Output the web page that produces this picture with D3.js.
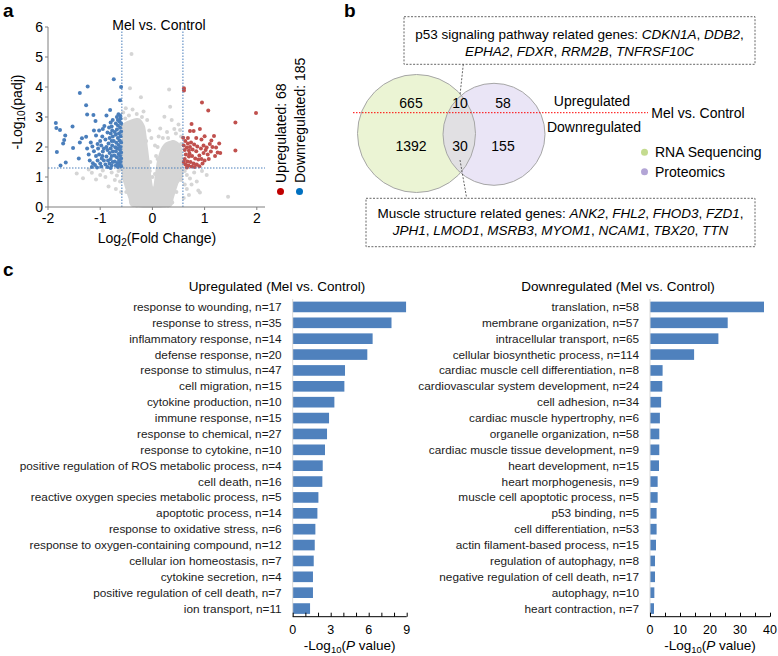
<!DOCTYPE html>
<html>
<head>
<meta charset="utf-8">
<script src="https://cdn.jsdelivr.net/npm/d3@7"></script>
<style>
body { margin: 0; background: #fff; }
svg { font-family: "Liberation Sans", Arial, sans-serif; }
</style>
</head>
<body>
<svg id="fig" width="778" height="656"></svg>
<script>
// ---- panel a: volcano ----
var upPts = [[0.605,3.96],[0.605,3.88],[0.95,3.48],[1.07,3.22],[1.985,3.13],[1.59,2.82],[1.59,1.88],[0.75,2.77],[0.91,2.6],[0.72,2.53],[0.79,2.53],[0.59,2.31],[1.0,2.36],[1.18,2.37],
	[0.63,2.2],[0.68,2.12],[0.74,2.15],[0.6,2.05],[0.66,1.98],[0.72,2.0],[0.8,2.08],[0.86,2.02],[0.62,1.9],[0.7,1.88],[0.77,1.92],[0.84,1.86],[0.93,1.95],[0.98,2.05],[1.04,1.98],[1.1,2.1],[1.15,2.0],[1.22,1.98],[1.28,2.12],[1.25,1.82],[1.3,1.8],[1.2,1.7],[1.12,1.85],[1.06,1.75],[0.98,1.8],[0.9,1.72],[0.64,1.75],[0.7,1.68],[0.76,1.7],[0.82,1.62],[0.88,1.58],[0.94,1.6],[1.0,1.55],[1.08,1.6],[0.62,1.6],[0.67,1.52],[0.73,1.5],[0.79,1.45],[0.85,1.42],[0.96,1.45],[0.63,1.42],[0.69,1.38],[0.75,1.35],[0.81,1.33],[0.9,1.36],[0.66,1.32],[1.02,1.9],[0.94,2.25],[0.84,2.3],[0.68,2.3],[1.13,2.22],[0.6,1.5],[0.71,1.78]];
var downPts = [[-0.74,4.26],[-1.24,4.02],[-0.6,4.0],[-1.39,3.8],[-0.62,3.56],[-1.27,3.39],[-0.81,3.23],[-0.65,3.09],[-1.25,3.08],[-1.13,3.07],[-0.88,3.05],[-1.85,2.8],[-1.53,2.68],[-1.84,2.63],[-1.77,2.57],[-1.09,2.87],[-1.12,2.55],[-1.67,2.38],[-1.69,2.23],[-1.71,2.12],[-1.35,2.29],[-1.52,1.97],[-1.39,2.15],[-1.27,2.34],[-1.83,1.83],[-1.41,1.62],[-1.66,1.48],[-1.76,1.38],[-1.16,1.33],[-1.14,1.46],
	[-0.61,2.95],[-0.63,2.85],[-0.6,2.78],[-0.66,2.72],[-0.62,2.64],[-0.68,2.58],[-0.6,2.52],[-0.64,2.45],[-0.7,2.41],[-0.61,2.36],[-0.66,2.3],[-0.63,2.22],[-0.6,2.15],[-0.69,2.14],[-0.65,2.07],[-0.61,2.0],[-0.67,1.95],[-0.62,1.9],[-0.7,1.86],[-0.6,1.82],[-0.65,1.77],[-0.62,1.7],[-0.68,1.66],[-0.6,1.62],[-0.64,1.57],[-0.61,1.5],[-0.67,1.47],[-0.63,1.41],[-0.6,1.36],[-0.66,1.33],[-0.7,1.38],[-0.72,1.52],[-0.73,1.72],[-0.71,1.99],[-0.74,2.2],[-0.72,2.5],[-0.7,2.78],[-0.66,2.9],[-0.68,3.0],[-0.62,3.05],
	[-0.76,2.9],[-0.78,2.68],[-0.77,2.55],[-0.8,2.45],[-0.76,2.35],[-0.82,2.3],[-0.78,2.2],[-0.84,2.12],[-0.77,2.05],[-0.8,1.95],[-0.86,1.9],[-0.76,1.85],[-0.82,1.8],[-0.78,1.7],[-0.88,1.68],[-0.8,1.6],[-0.85,1.55],[-0.76,1.5],[-0.82,1.45],[-0.9,1.42],[-0.78,1.38],[-0.86,1.33],[-0.8,1.3],[-0.93,1.55],[-0.88,2.0],[-0.9,2.25],[-0.86,2.48],[-0.83,2.65],[-0.92,2.7],[-0.8,2.82],
	[-0.96,2.35],[-1.0,2.2],[-0.98,2.05],[-1.04,1.95],[-0.95,1.85],[-1.02,1.75],[-1.08,1.7],[-0.97,1.62],[-1.05,1.55],[-1.0,1.45],[-1.1,1.4],[-0.98,1.35],[-1.06,1.32],[-1.12,1.86],[-1.15,2.02],[-1.2,1.55],[-1.18,2.15],[-1.08,2.38],[-1.02,2.55],[-0.95,2.6],[-1.22,1.75],[-1.25,1.95],[-1.05,2.1],[-0.93,1.95],[-0.96,1.7]];
// dense core of the non-significant genes, outlined by hand
var greyCore = [[-0.37,0],[-0.46,0.3],[-0.55,0.79],[-0.585,1.1],[-0.585,2.6],[-0.55,2.8],[-0.43,2.9],[-0.33,2.96],[-0.24,2.95],[-0.14,2.68],[-0.08,1.9],[-0.01,0.9],[0.02,0.7],[0.08,1.47],[0.15,1.9],[0.24,2.13],[0.4,2.23],[0.5,2.15],[0.56,2.0],[0.585,1.6],[0.585,1.0],[0.5,0.79],[0.41,0.3],[0.33,0]];
var greyPts = [[-0.4,5.1],[-0.43,3.96],[-0.22,3.66],[0.32,3.92],[0.34,3.34],[0.23,3.01],[-0.51,3.29],[-0.17,3.18],[0.15,2.62],[0.37,2.9],[0.53,2.57],[0.45,2.45],[0.28,2.5],[0.12,2.35],[0.2,2.3],[0.05,2.05],[-0.02,2.3],[-0.06,2.55],[-0.1,2.9],[-0.3,3.1],[-0.45,3.05],[-0.56,3.15],[-0.52,2.95],[-0.38,3.25],[0.42,2.6],[0.55,2.35],[0.5,2.75],
	[-1.45,1.12],[-1.33,0.96],[-1.16,1.14],[-1.0,1.07],[-0.84,0.68],[-0.72,0.9],[-0.65,1.2],[-0.9,1.0],[-1.08,0.92],[-0.78,1.15],[-0.68,1.05],[-0.62,0.85],[-0.7,0.6],[-0.6,0.5],[-0.95,1.22],[-1.22,1.25],[-0.62,1.25],
	[0.66,1.07],[0.75,0.75],[0.91,0.48],[0.88,0.55],[1.04,1.07],[1.45,0.34],[0.66,0.6],[0.72,0.95],[0.62,1.2],[0.8,1.15],[0.7,0.4],[0.6,0.3],[0.95,1.2],[0.85,0.85],[0.62,0.75],
	[-0.5,0.5],[-0.56,1.0],[-0.4,0.15],[0.38,0.15],[0.46,0.5],[0.55,0.9],[-0.05,1.2],[0.05,1.1],[0,1.0],[-0.04,1.5],[0.07,1.7],[0.1,1.6],[-0.12,2.2],[0.1,2.0],[0.3,2.3],[0.55,2.1],[-0.6,2.7],[-0.2,3.0],[0.3,0.05],[-0.3,0.05]];
var fcCut = 0.585, padjCut = 1.3;
var volcanoXTicks = [-2, -1, 0, 1, 2];
var volcanoYTicks = [0, 1, 2, 3, 4, 5, 6];
var upCount = 68, downCount = 185;

// ---- panel b: venn ----
var vennUp = [665, 10, 58];     // RNA only, both, proteomics only
var vennDown = [1392, 30, 155];
var vennSets = ["RNA Sequencing", "Proteomics"];
var p53Genes = [["CDKN1A", "DDB2,"], ["EPHA2", "FDXR", "RRM2B", "TNFRSF10C"]];
var muscleGenes = [["ANK2", "FHL2", "FHOD3", "FZD1,"], ["JPH1", "LMOD1", "MSRB3", "MYOM1", "NCAM1", "TBX20", "TTN"]];

// ---- panel c: GO bars ----
var upTerms = ["response to wounding, n=17","response to stress, n=35","inflammatory response, n=14","defense response, n=20","response to stimulus, n=47","cell migration, n=15","cytokine production, n=10","immune response, n=15","response to chemical, n=27","response to cytokine, n=10","positive regulation of ROS metabolic process, n=4","cell death, n=16","reactive oxygen species metabolic process, n=5","apoptotic process, n=14","response to oxidative stress, n=6","response to oxygen-containing compound, n=12","cellular ion homeostasis, n=7","cytokine secretion, n=4","positive regulation of cell death, n=7","ion transport, n=11"];
var upValues = [8.95, 7.8, 6.31, 5.89, 4.13, 4.08, 3.29, 2.87, 2.71, 2.55, 2.37, 2.34, 2.03, 1.95, 1.79, 1.74, 1.66, 1.6, 1.6, 1.37];
var downTerms = ["translation, n=58","membrane organization, n=57","intracellular transport, n=65","cellular biosynthetic process, n=114","cardiac muscle cell differentiation, n=8","cardiovascular system development, n=24","cell adhesion, n=34","cardiac muscle hypertrophy, n=6","organelle organization, n=58","cardiac muscle tissue development, n=9","heart development, n=15","heart morphogenesis, n=9","muscle cell apoptotic process, n=5","p53 binding, n=5","cell differentiation, n=53","actin filament-based process, n=15","regulation of autophagy, n=8","negative regulation of cell death, n=17","autophagy, n=10","heart contraction, n=7"];
var downValues = [38.0, 25.9, 22.8, 14.7, 4.2, 4.1, 3.7, 3.3, 3.1, 3.1, 3.0, 2.55, 2.55, 2.2, 2.2, 2.0, 1.67, 1.67, 1.45, 1.33];
var upTicks = [0, 3, 6, 9];
var downTicks = [0, 10, 20, 30, 40];

var svg = d3.select("#fig");
var blue = "#4f81bd";

function panelLabel(t, x, y) {
	svg.append("text").attr("x", x).attr("y", y).attr("font-size", "19px")
		.attr("font-weight", "bold").text(t);
}
panelLabel("a", 3, 17);
panelLabel("b", 344, 17);
panelLabel("c", 3, 276);

// ================= a =================
var vx = d3.scaleLinear().domain([-2, 2]).range([48, 256.8]);
var vy = d3.scaleLinear().domain([0, 6]).range([207, 27]);
var ga = svg.append("g");

ga.append("path").datum(greyCore)
	.attr("d", d3.line().x(function(d){return vx(d[0]);}).y(function(d){return vy(d[1]);}).curve(d3.curveCardinalClosed.tension(0.3)))
	.attr("fill", "#d5d5d5");
ga.selectAll("circle.g").data(greyPts).enter().append("circle")
	.attr("cx", function(d){return vx(d[0]);}).attr("cy", function(d){return vy(d[1]);})
	.attr("r", 2).attr("fill", "#d5d5d5");
ga.selectAll("circle.u").data(upPts).enter().append("circle")
	.attr("cx", function(d){return vx(d[0]);}).attr("cy", function(d){return vy(d[1]);})
	.attr("r", 2).attr("fill", "#c0504d");
ga.selectAll("circle.d").data(downPts).enter().append("circle")
	.attr("cx", function(d){return vx(d[0]);}).attr("cy", function(d){return vy(d[1]);})
	.attr("r", 2).attr("fill", "#4a7ebb");

// cut-off lines
var cutStyle = function(sel) {
	return sel.attr("stroke", "#4a7ebb").attr("stroke-width", 1).attr("stroke-dasharray", "1.5,1.5");
};
cutStyle(ga.append("line").attr("x1", vx(-2)).attr("x2", 265).attr("y1", vy(padjCut)).attr("y2", vy(padjCut)));
[-fcCut, fcCut].forEach(function(c) {
	cutStyle(ga.append("line").attr("x1", vx(c)).attr("x2", vx(c)).attr("y1", vy(0)).attr("y2", vy(6)));
});

// axes
ga.append("line").attr("x1", vx(-2)).attr("x2", 265).attr("y1", vy(0)).attr("y2", vy(0)).attr("stroke", "#7f7f7f");
ga.append("line").attr("x1", vx(-2)).attr("x2", vx(-2)).attr("y1", vy(0)).attr("y2", vy(6)).attr("stroke", "#7f7f7f");
ga.selectAll("line.xt").data(volcanoXTicks).enter().append("line")
	.attr("x1", function(d){return vx(d);}).attr("x2", function(d){return vx(d);})
	.attr("y1", vy(0)).attr("y2", vy(0) + 3).attr("stroke", "#7f7f7f");
ga.selectAll("line.yt").data(volcanoYTicks).enter().append("line")
	.attr("x1", vx(-2) - 3).attr("x2", vx(-2))
	.attr("y1", function(d){return vy(d);}).attr("y2", function(d){return vy(d);}).attr("stroke", "#7f7f7f");
ga.selectAll("text.xt").data(volcanoXTicks).enter().append("text")
	.attr("x", function(d){return vx(d);}).attr("y", 223).attr("text-anchor", "middle")
	.attr("font-size", "14px").text(function(d){return d;});
ga.selectAll("text.yt").data(volcanoYTicks).enter().append("text")
	.attr("x", 43).attr("y", function(d){return vy(d) + 5;}).attr("text-anchor", "end")
	.attr("font-size", "14px").text(function(d){return d;});

ga.append("text").attr("x", 159).attr("y", 30).attr("text-anchor", "middle")
	.attr("font-size", "14px").text("Mel vs. Control");
var xt = ga.append("text").attr("x", 157).attr("y", 243).attr("text-anchor", "middle").attr("font-size", "14px");
xt.append("tspan").text("Log");
xt.append("tspan").attr("font-size", "10px").attr("dy", 3).text("2");
xt.append("tspan").attr("dy", -3).text("(Fold Change)");
var yt = ga.append("text").attr("transform", "translate(22,112) rotate(-90)").attr("text-anchor", "middle").attr("font-size", "14px");
yt.append("tspan").text("-Log");
yt.append("tspan").attr("font-size", "10px").attr("dy", 3).text("10");
yt.append("tspan").attr("dy", -3).text("(padj)");

// rotated legend
[[285.5, "#c00000", "Upregulated: " + upCount], [304.5, "#0070c0", "Downregulated: " + downCount]].forEach(function(l) {
	ga.append("circle").attr("cx", l[0] - 5).attr("cy", 191.5).attr("r", 3.5).attr("fill", l[1]);
	ga.append("text").attr("transform", "translate(" + l[0] + ",183) rotate(-90)")
		.attr("font-size", "14px").text(l[2]);
});

// ================= b =================
var gb = svg.append("g");
var circ = [{cx: 416.5, cy: 133.5, r: 59, fill: "#ebf4d4", op: 1, dot: "#c4db8f"},
            {cx: 494, cy: 134.3, r: 51, fill: "#d8cfee", op: 0.55, dot: "#b3a5d6"}];
gb.selectAll("circle.v").data(circ).enter().append("circle")
	.attr("cx", function(d){return d.cx;}).attr("cy", function(d){return d.cy;}).attr("r", function(d){return d.r;})
	.attr("fill", function(d){return d.fill;}).attr("fill-opacity", function(d){return d.op;});
gb.selectAll("circle.vs").data(circ).enter().append("circle")
	.attr("cx", function(d){return d.cx;}).attr("cy", function(d){return d.cy;}).attr("r", function(d){return d.r;})
	.attr("fill", "none").attr("stroke", "#a6a6a6").attr("stroke-width", 1);

gb.append("line").attr("x1", 353).attr("x2", 648).attr("y1", 112.7).attr("y2", 112.7)
	.attr("stroke", "#ff0000").attr("stroke-width", 1).attr("stroke-dasharray", "1.5,1.5");

var cx3 = [411, 460, 503];
gb.selectAll("text.vu").data(vennUp).enter().append("text")
	.attr("x", function(d, i){return cx3[i];}).attr("y", 108).attr("text-anchor", "middle")
	.attr("font-size", "14px").text(function(d){return d;});
gb.selectAll("text.vd").data(vennDown).enter().append("text")
	.attr("x", function(d, i){return cx3[i];}).attr("y", 151).attr("text-anchor", "middle")
	.attr("font-size", "14px").text(function(d){return d;});

gb.append("text").attr("x", 592).attr("y", 106).attr("text-anchor", "middle").attr("font-size", "14px").text("Upregulated");
gb.append("text").attr("x", 698).attr("y", 118).attr("text-anchor", "middle").attr("font-size", "14px").text("Mel vs. Control");
gb.append("text").attr("x", 594).attr("y", 132).attr("text-anchor", "middle").attr("font-size", "14px").text("Downregulated");

gb.selectAll("circle.lg").data(circ).enter().append("circle")
	.attr("cx", 644.5).attr("cy", function(d, i){return 152.3 + i * 19.4;}).attr("r", 3.5)
	.attr("fill", function(d){return d.dot;});
gb.selectAll("text.lg").data(vennSets).enter().append("text")
	.attr("x", 655).attr("y", function(d, i){return 157.3 + i * 19.4;})
	.attr("font-size", "14px").text(function(d){return d;});

// gene boxes
function geneBox(x, y, w, h, lead, genes, lineY) {
	gb.append("rect").attr("x", x).attr("y", y).attr("width", w).attr("height", h)
		.attr("fill", "none").attr("stroke", "#404040").attr("stroke-width", 0.8).attr("stroke-dasharray", "2,1.5");
	genes.forEach(function(line, li) {
		var t = gb.append("text").attr("x", x + w / 2).attr("y", lineY[li]).attr("text-anchor", "middle").attr("font-size", "13.5px");
		if (li === 0) t.append("tspan").text(lead + " ");
		line.forEach(function(g, gi) {
			var name = g.replace(",", "");
			t.append("tspan").attr("font-style", "italic").text(name);
			if (gi < line.length - 1 || g.indexOf(",") >= 0) t.append("tspan").text(", ");
		});
	});
}
geneBox(404, 16.7, 351, 47.6, "p53 signaling pathway related genes:", p53Genes, [39, 56]);
geneBox(366, 198.3, 389, 48.4, "Muscle structure related genes:", muscleGenes, [218, 235]);

var connector = function(sel) {
	return sel.attr("stroke", "#404040").attr("stroke-width", 0.8).attr("stroke-dasharray", "2,1.5");
};
connector(gb.append("line").attr("x1", 463.3).attr("y1", 64.3).attr("x2", 460).attr("y2", 95));
connector(gb.append("line").attr("x1", 460).attr("y1", 160).attr("x2", 466.7).attr("y2", 198.3));

// ================= c =================
function goChart(terms, values, ticks, x0, x1, maxV, minorStep, titleText, titleX) {
	var g = svg.append("g");
	var x = d3.scaleLinear().domain([0, maxV]).range([x0, x1]);
	var y = d3.scaleBand().domain(terms).range([299, 616.5]).paddingInner(0.33).paddingOuter(0.165);

	g.append("text").attr("x", titleX).attr("y", 291).attr("text-anchor", "middle")
		.attr("font-size", "13.5px").text(titleText);

	g.selectAll("rect").data(values).enter().append("rect")
		.attr("x", x(0)).attr("y", function(d, i){return y(terms[i]);})
		.attr("width", function(d){return x(d) - x(0);}).attr("height", y.bandwidth())
		.attr("fill", blue);

	g.selectAll("text.lab").data(terms).enter().append("text")
		.attr("x", x0 - 11).attr("y", function(d){return y(d) + y.bandwidth() / 2 + 4;})
		.attr("text-anchor", "end").attr("font-size", "11.8px").attr("fill", "#1a1a1a")
		.text(function(d){return d;});

	g.append("line").attr("x1", x(0)).attr("x2", x(0)).attr("y1", 299).attr("y2", 616.7)
		.attr("stroke", "#d9d9d9");
	var axis = d3.axisBottom(x).tickValues(d3.range(0, maxV + 0.001, minorStep))
		.tickSize(-4).tickFormat("");
	var ax = g.append("g").attr("transform", "translate(0,616.7)").call(axis);
	ax.select(".domain").attr("stroke", "#000").attr("d", "M" + x0 + ",0H" + x1);
	ax.selectAll(".tick line").attr("stroke", "#000");
	g.selectAll("text.tk").data(ticks).enter().append("text")
		.attr("x", function(d){return x(d);}).attr("y", 634).attr("text-anchor", "middle")
		.attr("font-size", "12.5px").text(function(d){return d;});

	var at = g.append("text").attr("x", (x0 + x1) / 2).attr("y", 650).attr("text-anchor", "middle").attr("font-size", "13.5px");
	at.append("tspan").text("-Log");
	at.append("tspan").attr("font-size", "9.5px").attr("dy", 2.5).text("10");
	at.append("tspan").attr("dy", -2.5).text("(");
	at.append("tspan").attr("font-style", "italic").text("P");
	at.append("tspan").text(" value)");
}
goChart(upTerms, upValues, upTicks, 292.7, 406.7, 9, 1, "Upregulated  (Mel vs. Control)", 277);
goChart(downTerms, downValues, downTicks, 650, 770, 40, 5, "Downregulated  (Mel vs. Control)", 618);
</script>
</body>
</html>
